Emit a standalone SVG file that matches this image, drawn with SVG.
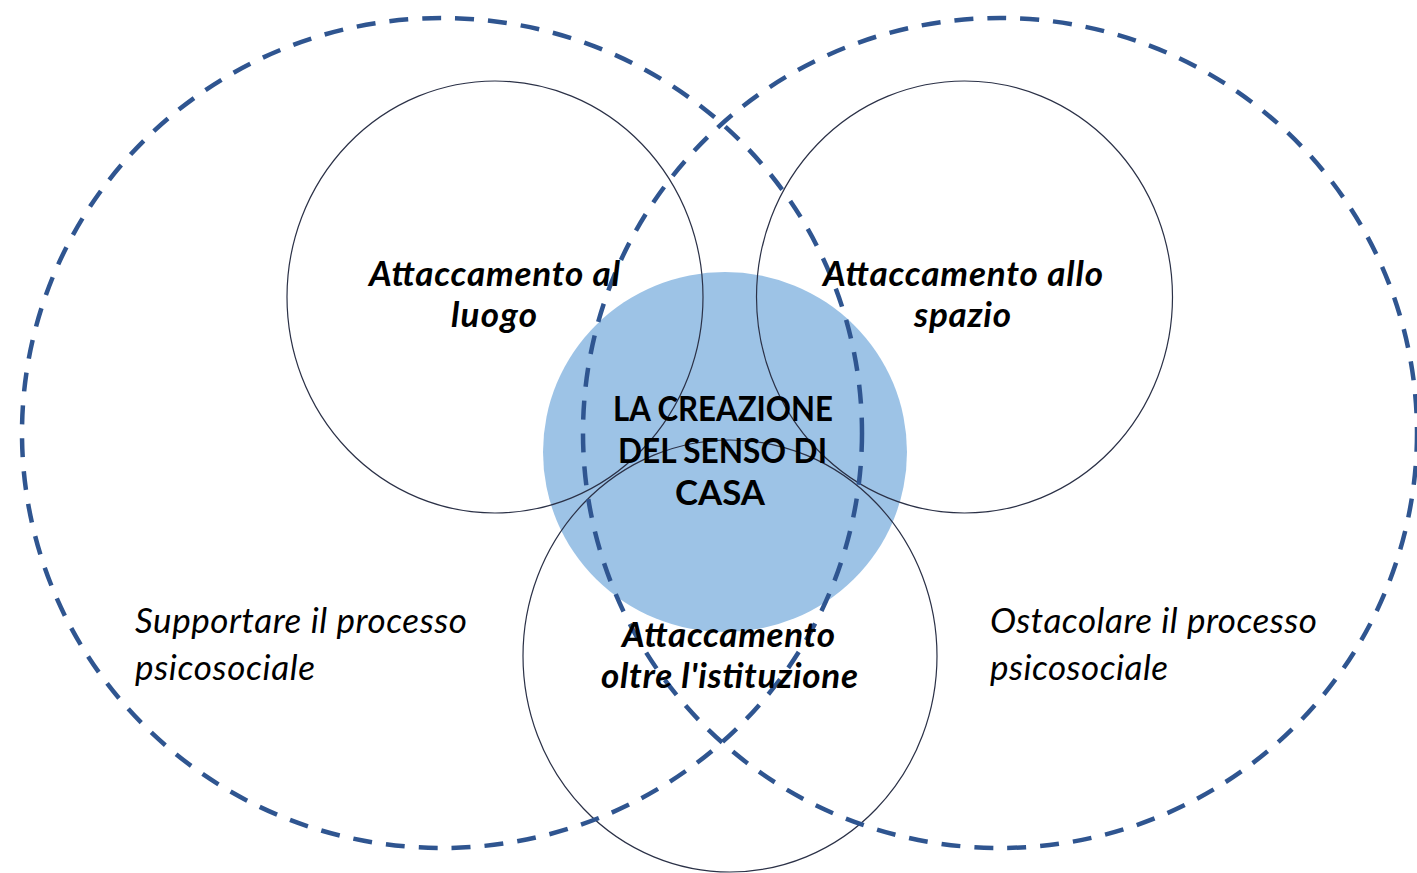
<svg xmlns="http://www.w3.org/2000/svg" width="1417" height="873" viewBox="0 0 1417 873">
<style>
.thin{fill:none;stroke:#2b3147;stroke-width:1.2}
.dash{fill:none;stroke:#2f5590;stroke-width:4.5;stroke-dasharray:19 14}
.lbl{font-family:Lato,"Liberation Sans",sans-serif;font-weight:bold;font-style:italic;font-size:35px;fill:#000;text-anchor:middle}
.ctr{font-family:Lato,"Liberation Sans",sans-serif;font-weight:bold;font-size:34px;fill:#000;text-anchor:middle}
.side{font-family:Lato,"Liberation Sans",sans-serif;font-style:italic;font-size:35px;fill:#000}
</style>
<rect width="1417" height="873" fill="#fff"/>
<g id="center">
<ellipse cx="725" cy="452" rx="182" ry="180" fill="#9dc3e6"/>
</g>
<g id="luogo">
<ellipse class="thin" cx="495" cy="297" rx="208" ry="216"/>
</g>
<g id="spazio">
<ellipse class="thin" cx="964.5" cy="297" rx="208" ry="216"/>
</g>
<g id="istituzione">
<ellipse class="thin" cx="730" cy="656" rx="207" ry="216"/>
</g>
<g id="supportare">
<ellipse class="dash" cx="442" cy="433" rx="420" ry="415"/>
</g>
<g id="ostacolare">
<ellipse class="dash" cx="1000" cy="433" rx="417" ry="415"/>
</g>
<g id="connectors"></g>
<g id="labels">
<text class="ctr" x="723" y="421" textLength="220" lengthAdjust="spacingAndGlyphs">LA CREAZIONE</text>
<text class="ctr" x="722.5" y="463" textLength="209" lengthAdjust="spacingAndGlyphs">DEL SENSO DI</text>
<text class="ctr" x="720" y="505" textLength="90" lengthAdjust="spacingAndGlyphs">CASA</text>
<text class="lbl" x="494.5" y="286" textLength="251">Attaccamento al</text>
<text class="lbl" x="494" y="327" textLength="86">luogo</text>
<text class="lbl" x="963" y="286" textLength="280">Attaccamento allo</text>
<text class="lbl" x="962.5" y="327" textLength="97">spazio</text>
<text class="lbl" x="728.5" y="647" textLength="213">Attaccamento</text>
<text class="lbl" x="729.5" y="688" textLength="257">oltre l'istituzione</text>
<text class="side" x="135" y="633" textLength="332">Supportare il processo</text>
<text class="side" x="135" y="680" textLength="180">psicosociale</text>
<text class="side" x="990" y="633" textLength="327">Ostacolare il processo</text>
<text class="side" x="990" y="680" textLength="178">psicosociale</text>
</g>
</svg>
